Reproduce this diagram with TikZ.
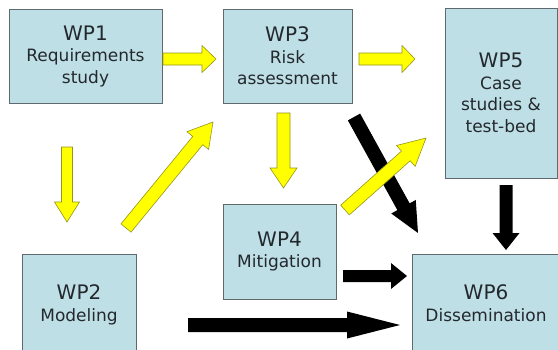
\documentclass[tikz,border=0pt]{standalone}
\usepackage{fontspec}
\setmainfont{DejaVu Sans}
\usetikzlibrary{calc}
\definecolor{boxfill}{RGB}{190,223,230}
\definecolor{boxline}{RGB}{95,105,110}
\definecolor{txt}{RGB}{35,40,45}
\definecolor{arrY}{RGB}{255,255,0}
\definecolor{arrYline}{RGB}{150,150,30}
\newcommand\wpt[1]{{\fontsize{20}{21.5}\selectfont #1}}
% #1 style, #2 from, #3 to, #4 shaft half width, #5 head half width, #6 head length
\newcommand\blockarrow[6]{%
  \coordinate (ba-h) at ($(#3)!#6!(#2)$);
  \path[#1] ($(#2)!#4!90:(#3)$) -- ($(ba-h)!#4!90:(#3)$) -- ($(ba-h)!#5!90:(#3)$)
    -- (#3) -- ($(ba-h)!#5!-90:(#3)$) -- ($(ba-h)!#4!-90:(#3)$) -- ($(#2)!#4!-90:(#3)$) -- cycle;
}
\tikzset{
  wp/.style={draw=boxline, fill=boxfill, line width=0.8pt, text=txt, align=center,
    inner sep=0pt, font=\fontsize{17}{21.5}\selectfont},
  yarrow/.style={fill=arrY, draw=arrYline, line width=0.6pt, line join=miter},
  karrow/.style={fill=black}
}
\begin{document}
\begin{tikzpicture}[x=1pt,y=-1pt]
\useasboundingbox (0,0) rectangle (558,349);
\clip (0,0) rectangle (558,349);
\fill[white] (0,0) rectangle (558,349);

\node[wp, minimum width=153, minimum height=94] (wp1) at (85.5,56) {\wpt{WP1}\\Requirements\\study};
\node[wp, minimum width=129, minimum height=94] (wp3) at (287.5,56) {\wpt{WP3}\\Risk\\assessment};
\node[wp, minimum width=112, minimum height=170] (wp5) at (501,93) {\wpt{WP5}\\Case\\studies \&\\test-bed};
\node[wp, minimum width=114, minimum height=102] (wp2) at (79,305) {\wpt{WP2}\\Modeling};
\node[wp, minimum width=113, minimum height=95] (wp4) at (279.5,251.5) {\wpt{WP4}\\Mitigation};
\node[wp, minimum width=148, minimum height=98] (wp6) at (486,303) {\wpt{WP6}\\Dissemination};

% arrow end points
\coordinate (b1s) at (188,325); \coordinate (b1e) at (400,325);
\coordinate (b2s) at (343,276); \coordinate (b2e) at (407,276);
\coordinate (b3s) at (506,185); \coordinate (b3e) at (506,250);
\coordinate (b4s) at (354,117); \coordinate (b4e) at (418,233);
\coordinate (a1s) at (163,59);  \coordinate (a1e) at (216,59);
\coordinate (a2s) at (359,59);  \coordinate (a2e) at (415,59);
\coordinate (a3s) at (67,147);  \coordinate (a3e) at (67,222);
\coordinate (a4s) at (283.5,113); \coordinate (a4e) at (283.5,188);
\coordinate (a5s) at (126,228); \coordinate (a5e) at (213,122);
\coordinate (a6s) at (345,210); \coordinate (a6e) at (426,138);

% black arrows
\blockarrow{karrow}{b1s}{b1e}{7pt}{13.5pt}{53pt}
\blockarrow{karrow}{b2s}{b2e}{6pt}{13pt}{16pt}
\blockarrow{karrow}{b3s}{b3e}{6.5pt}{13.5pt}{17pt}
\blockarrow{karrow}{b4s}{b4e}{7pt}{14pt}{30pt}

% yellow arrows
\blockarrow{yarrow}{a1s}{a1e}{6pt}{13.5pt}{14pt}
\blockarrow{yarrow}{a2s}{a2e}{6pt}{13.5pt}{13pt}
\blockarrow{yarrow}{a3s}{a3e}{5.5pt}{12.5pt}{20pt}
\blockarrow{yarrow}{a4s}{a4e}{6.5pt}{13.5pt}{20pt}
\blockarrow{yarrow}{a5s}{a5e}{6.5pt}{14pt}{24pt}
\blockarrow{yarrow}{a6s}{a6e}{6.5pt}{14pt}{27pt}
\end{tikzpicture}
\end{document}
